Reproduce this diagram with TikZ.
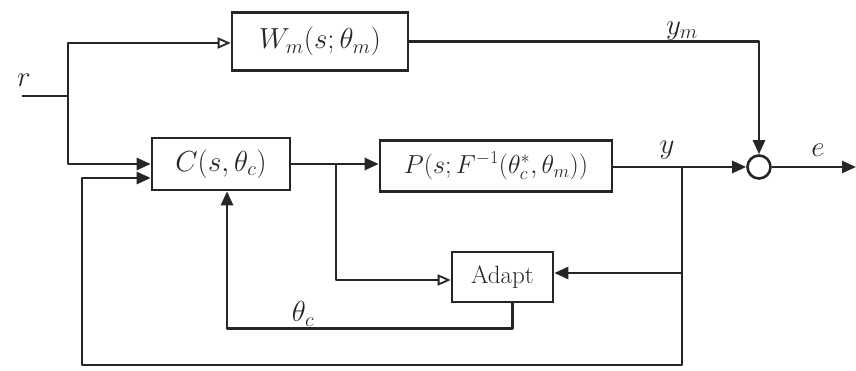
\RequirePackage{fix-cm}
\documentclass[tikz,border=0pt]{standalone}
\usetikzlibrary{arrows.meta,calc}
\definecolor{ink}{HTML}{262626}
\begin{document}
\begin{tikzpicture}[x=1pt,y=-1pt,
  wire/.style={line width=2.6pt, draw=ink, line join=round},
  fin/.style={wire, -{Triangle[length=14pt,width=12pt,fill=ink]}},
  oin/.style={wire, -{Triangle[open,length=13pt,width=11pt,line width=1.8pt]}},
  block/.style={draw=ink, line width=2.6pt, inner sep=0pt, text=ink,
    font=\fontsize{29}{33}\selectfont},
  lbl/.style={text=ink, inner sep=0pt, font=\fontsize{29}{33}\selectfont}]
\useasboundingbox (0,0) rectangle (856,371);

% blocks
\node[block, minimum width=176pt, minimum height=58pt] (W) at (320,41.5) {$W_m(s;\theta_m)$};
\node[block, minimum width=138pt, minimum height=52pt] (C) at (221,164) {$C(s,\theta_c)$};
\node[block, minimum width=232pt, minimum height=51pt, font=\fontsize{26}{30}\selectfont] (P) at (496,166) {$P(s;F^{-1}(\theta_c^{*},\theta_m))$};
\node[block, minimum width=101pt, minimum height=50pt, font=\fontsize{25}{29}\selectfont] (A) at (502.5,277) {Adapt};
\node[draw=ink, line width=2.6pt, circle, minimum size=23pt, inner sep=0pt] (S) at (759,167) {};

% labels
\node[lbl] (r) at (24,80) {$r$};
\node[lbl] (ym) at (682,31) {$y_m$};
\node[lbl] (y) at (667,150) {$y$};
\node[lbl] (e) at (818,150) {$e$};
\node[lbl] (tc) at (303,314) {$\theta_c$};

% junction points
\coordinate (rin) at (22,96);
\coordinate (rj) at (68,96);
\coordinate (cj) at (336,164);
\coordinate (yj) at (682,167);
\coordinate (aj) at (682,273);
\coordinate (out) at (856,167);

% reference branch
\draw[wire] (rin) -- (rj);
\draw[oin] (rj) |- ($(W.west)+(0,1.5)$);
\draw[fin] (rj) |- (C.west);

% model output to summing junction
\draw[fin] (W.east) -| (S.north);

% forward path
\draw[fin] (C.east) -- (P.west |- C.east);
\draw[fin] (P.east |- S.west) -- (S.west);
\draw[fin] (S.east) -- (out);

% adaptation path
\draw[oin] (cj) |- ($(A.west)+(0,3)$);
\draw[fin] (aj) -- (A.east |- aj);
\draw[fin] ($(A.south)+(10,0)$) -- ++(0,25) -| ($(C.south)+(6,0)$);

% output feedback loop
\draw[fin] (yj) -- (682,365) -- (82,365) -- (82,178) -- ($(C.west)+(0,14)$);
\end{tikzpicture}
\end{document}
